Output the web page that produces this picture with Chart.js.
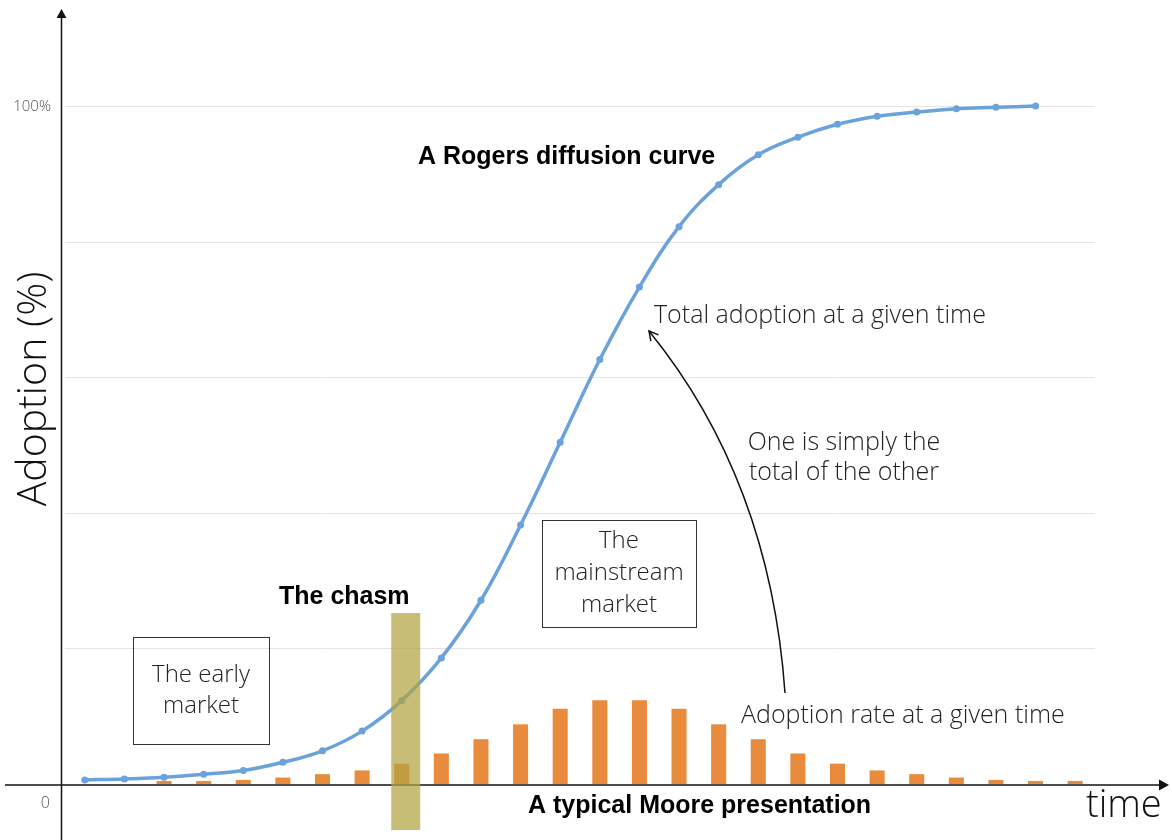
<!DOCTYPE html>
<html>
<head>
<meta charset="utf-8">
<title>Rogers diffusion curve</title>
<script src="https://cdn.jsdelivr.net/npm/chart.js@4.4.1/dist/chart.umd.min.js"></script>
<style>
  html,body{margin:0;padding:0;background:#fff;}
  #wrap{width:1172px;height:840px;}
</style>
</head>
<body>
<div id="wrap"><canvas id="chart" width="1172" height="840"></canvas></div>
<script>
// time periods (x categories)
const periods = ['1','2','3','4','5','6','7','8','9','10','11','12','13',
                 '14','15','16','17','18','19','20','21','22','23','24','25','26'];

// cumulative adoption (%) - the Rogers curve
const totalAdoption = [0.6, 0.75, 1.0, 1.45, 2.0, 3.2, 4.9, 7.8, 12.3, 18.6, 27.1, 38.2, 50.4,
                       62.6, 73.3, 82.2, 88.4, 92.8, 95.4, 97.3, 98.5, 99.1, 99.6, 99.8, 100, null];

// adoption rate per period (%) - the Moore bars
const adoptionRate = [null, null, 0.45, 0.45, 0.6, 0.95, 1.45, 2.0, 3.0, 4.5, 6.6, 8.8, 11.1,
                      12.35, 12.35, 11.1, 8.8, 6.6, 4.5, 3.0, 2.0, 1.45, 0.95, 0.6, 0.45, 0.45];

const gridValues = [20, 40, 60, 80, 100];

const chasmIndex = 8;

const LIGHT = '300 24px "Open Sans", Roboto, sans-serif';
const NOTE = '300 25px "Open Sans", Roboto, sans-serif';
const BOLD = 'bold 25px "Liberation Sans", Arial, sans-serif';

function arrowHead(ctx, x, y, angle, size, filled){
    ctx.save();
    ctx.translate(x, y);
    ctx.rotate(angle);
    ctx.beginPath();
    ctx.moveTo(-size, -size*0.55);
    ctx.lineTo(0, 0);
    ctx.lineTo(-size, size*0.55);
    if(filled){
        ctx.closePath();
        ctx.fill();
    }else{
        ctx.stroke();
    }
    ctx.restore();
}

function textBox(ctx, x1, y1, x2, y2, lines, lineH){
    ctx.strokeStyle = '#333';
    ctx.lineWidth = 1;
    ctx.strokeRect(x1 + 0.5, y1 + 0.5, x2 - x1, y2 - y1);
    ctx.font = LIGHT;
    ctx.fillStyle = '#222';
    ctx.textAlign = 'center';
    ctx.textBaseline = 'middle';
    let cx = (x1 + x2) / 2;
    let cy = (y1 + y2) / 2 - (lines.length - 1) * lineH / 2;
    lines.forEach(function(l, i){
        ctx.fillText(l, cx, cy + i * lineH);
    });
}

const backdrop = {
    id: 'backdrop',
    beforeDatasetsDraw(chart){
        let ctx = chart.ctx;
        let area = chart.chartArea;
        let ys = chart.scales.y;
        ctx.save();

        // gridlines
        ctx.strokeStyle = '#e4e4e4';
        ctx.lineWidth = 1;
        gridValues.forEach(function(v){
            let y = Math.round(ys.getPixelForValue(v)) + 0.5;
            ctx.beginPath();
            ctx.moveTo(area.left, y);
            ctx.lineTo(area.right, y);
            ctx.stroke();
        });

        // tick labels
        ctx.fillStyle = '#555';
        ctx.font = '300 15px "Open Sans", Roboto, sans-serif';
        ctx.textAlign = 'right';
        ctx.textBaseline = 'middle';
        ctx.fillText('100%', 51, ys.getPixelForValue(100) + 1);
        ctx.font = '300 16px "Open Sans", Roboto, sans-serif';
        ctx.fillText('0', 50, ys.getPixelForValue(0) + 19);

        // y title
        ctx.save();
        ctx.translate(34, 389);
        ctx.rotate(-Math.PI / 2);
        ctx.textAlign = 'center';
        ctx.fillStyle = '#111';
        ctx.font = '300 41px "Open Sans", Roboto, sans-serif';
        ctx.fillText('Adoption (%)', 0, 0);
        ctx.restore();

        ctx.restore();
    },
    afterDatasetsDraw(chart){
        let ctx = chart.ctx;
        let xs = chart.scales.x;
        let ys = chart.scales.y;
        let zeroY = ys.getPixelForValue(0);
        ctx.save();

        // axes with arrows
        ctx.strokeStyle = '#111';
        ctx.fillStyle = '#111';
        ctx.lineWidth = 1.5;
        ctx.beginPath();
        ctx.moveTo(61.5, 840);
        ctx.lineTo(61.5, 12);
        ctx.stroke();
        arrowHead(ctx, 61.5, 9, -Math.PI / 2, 9, true);
        ctx.beginPath();
        ctx.moveTo(5, zeroY + 1);
        ctx.lineTo(1162, zeroY + 1);
        ctx.stroke();
        arrowHead(ctx, 1169, zeroY + 1, 0, 10, true);

        // the chasm band
        let cx = xs.getPixelForValue(chasmIndex);
        ctx.fillStyle = 'rgba(178,164,66,0.72)';
        ctx.fillRect(cx - 10.5, 613, 29, 217);

        // boxes
        textBox(ctx, 133, 637, 269, 744, ['The early', 'market'], 31);
        textBox(ctx, 542, 520, 696, 627, ['The', 'mainstream', 'market'], 32);

        // bold labels
        ctx.fillStyle = '#000';
        ctx.font = BOLD;
        ctx.textAlign = 'left';
        ctx.textBaseline = 'middle';
        ctx.fillText('A Rogers diffusion curve', 418, 157);
        ctx.fillText('The chasm', 279, 597);
        ctx.fillText('A typical Moore presentation', 528, 806);

        // light annotations
        ctx.fillStyle = '#222';
        ctx.font = NOTE;
        ctx.fillText('Total adoption at a given time', 654, 316);
        ctx.fillText('Adoption rate at a given time', 741, 716);
        ctx.textAlign = 'center';
        ctx.fillText('One is simply the', 844, 443);
        ctx.fillText('total of the other', 844, 473);

        ctx.textAlign = 'left';
        ctx.fillStyle = '#111';
        ctx.font = '300 38px "Open Sans", Roboto, sans-serif';
        ctx.fillText('time', 1086, 806);

        // curved arrow from the bars to the curve
        ctx.strokeStyle = '#111';
        ctx.lineWidth = 1.5;
        ctx.beginPath();
        ctx.moveTo(785, 693);
        ctx.quadraticCurveTo(770, 480, 649, 331);
        ctx.stroke();
        arrowHead(ctx, 649, 331, Math.atan2(331 - 480, 649 - 770), 9, false);

        ctx.restore();
    }
};

let chart = new Chart(document.getElementById('chart'), {
    type: 'bar',
    data: {
        labels: periods,
        datasets: [
            {
                type: 'line',
                label: 'Total adoption',
                data: totalAdoption,
                borderColor: '#6ba2dc',
                backgroundColor: '#6ba2dc',
                borderWidth: 3.5,
                pointRadius: 3.5,
                pointBorderWidth: 0,
                tension: 0.4,
                clip: false,
                order: 0
            },
            {
                type: 'bar',
                label: 'Adoption rate',
                data: adoptionRate,
                backgroundColor: '#e98b3c',
                categoryPercentage: 1,
                barPercentage: 0.38,
                order: 1
            }
        ]
    },
    options: {
        responsive: false,
        animation: false,
        devicePixelRatio: 1,
        layout: {padding: {left: 65, right: 77, top: 106, bottom: 56}},
        plugins: {
            legend: {display: false},
            tooltip: {enabled: false}
        },
        scales: {
            x: {display: false},
            y: {display: false, min: 0, max: 100}
        }
    },
    plugins: [backdrop]
});
</script>
</body>
</html>
